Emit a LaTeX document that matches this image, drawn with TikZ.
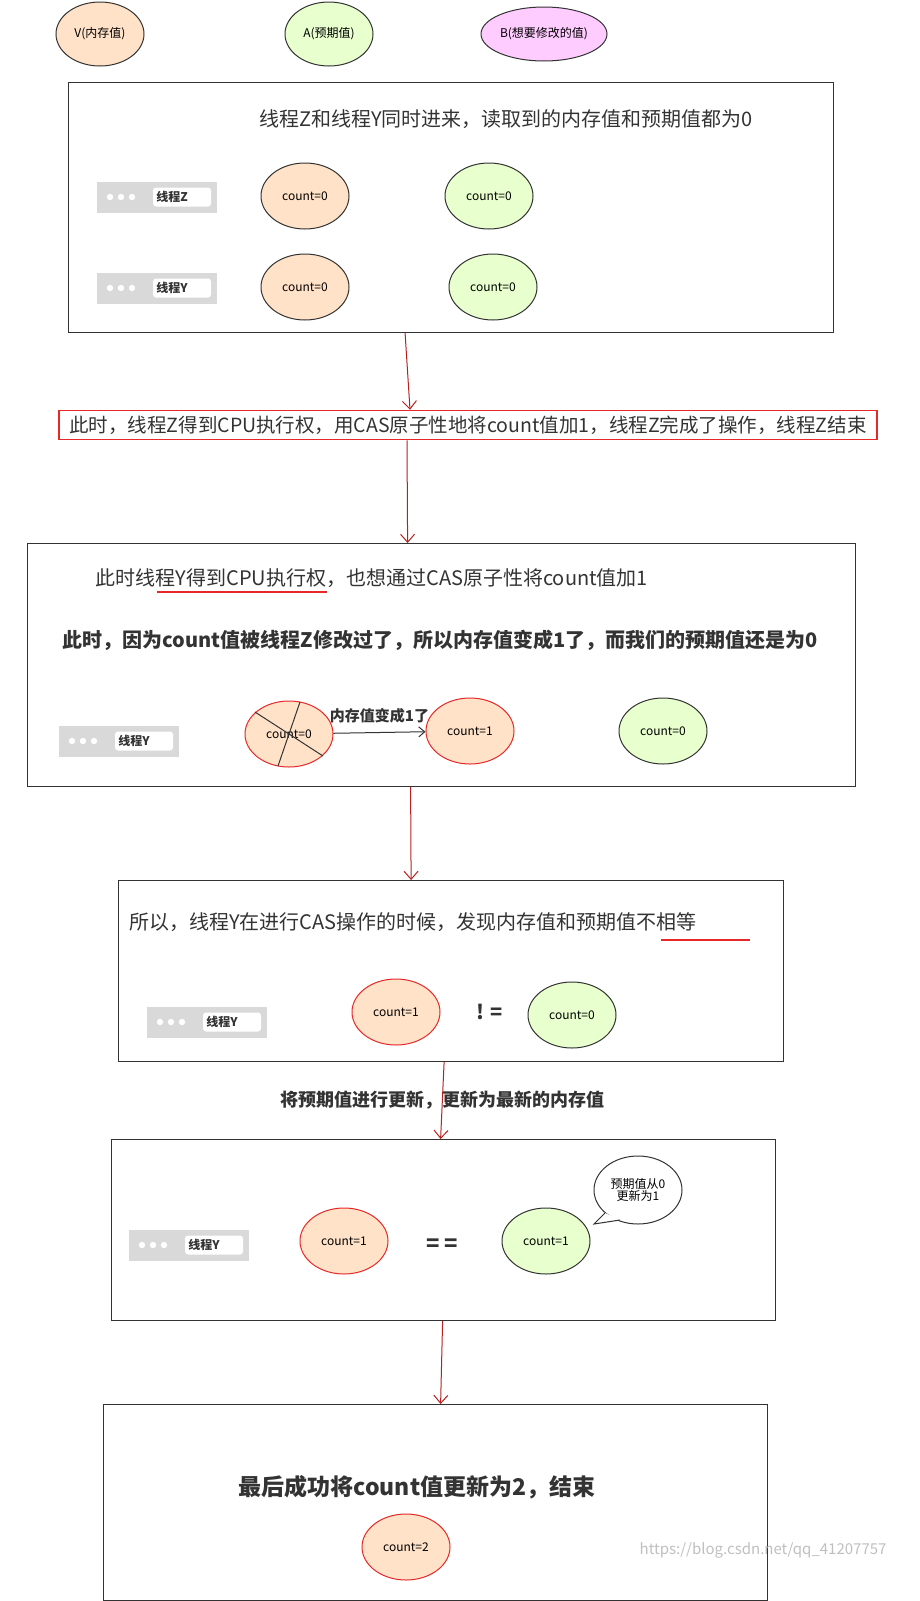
\documentclass[tikz,border=0pt]{standalone}
\usepackage{fontspec}
\setmainfont{Noto Sans CJK SC}
\usetikzlibrary{shapes.geometric,arrows.meta,positioning,calc}
\definecolor{peach}{RGB}{255,226,200}
\definecolor{lgreen}{RGB}{232,255,206}
\definecolor{lpink}{RGB}{255,204,255}
\definecolor{cred}{RGB}{230,40,40}
\newcommand\fs[1]{\fontsize{#1}{#1}\selectfont}

\begin{document}
\begin{tikzpicture}[
    x=1pt, y=-1pt,
    frame/.style={draw=black!80, line width=1.2, anchor=north west, inner sep=0},
    val/.style={ellipse, draw=black!80, line width=1, minimum width=88, minimum height=66, inner sep=0, font=\fs{12}},
    mem/.style={val, fill=peach},
    exp/.style={val, fill=lgreen},
    redmem/.style={mem, draw=cred},
    title/.style={font=\fs{20}, text=black!80, inner sep=0},
    bold title/.style={font=\fs{20}\bfseries, text=black!80, inner sep=0},
    flow/.style={-{Straight Barb[length=8,width=14]}, draw=cred!80!black, line width=1},
    threadbar/.pic={
        \fill[gray!30] (-60,-15) rectangle (60,16);
        \foreach \dx in {-47,-36,-25} \fill[white] (\dx,0) circle (3.2);
        \node[fill=white, rounded corners=3, minimum width=58, minimum height=19, inner sep=0, text=black!80,
              font=\fs{12}\bfseries] at (25,0) {\hspace*{-20pt}#1};
    }
]
\useasboundingbox (0,0) rectangle (919,1601);
\clip (0,0) rectangle (919,1601);
% Legend
\node[val, fill=peach, minimum width=88, minimum height=64] (lv) at (100,34) {V(内存值)};
\node[val, fill=lgreen, minimum width=88, minimum height=64] (la) at (329,34) {A(预期值)};
\node[val, fill=lpink, minimum width=126, minimum height=54] (lb) at (544,34) {B(想要修改的值)};

% Step 1
\node[frame, minimum width=765, minimum height=250] (f1) at (68,82) {};
\node[title] (t1) at (506,119) {线程Z和线程Y同时进来，读取到的内存值和预期值都为0};
\pic at (157,197) {threadbar=线程Z};
\pic at (157,288) {threadbar=线程Y};
\node[mem] (z1) at (305,196) {count=0};
\node[exp] (z2) at (489,196) {count=0};
\node[mem] (y1) at (305,287) {count=0};
\node[exp] (y2) at (493,287) {count=0};

% Step 2
\node[draw=cred, line width=1.5, minimum width=818, minimum height=29, inner sep=0, font=\fs{19.5}, text=black!80] (n2) at (468,425) {此时，线程Z得到CPU执行权，用CAS原子性地将count值加1，线程Z完成了操作，线程Z结束};
\draw[flow] ([xshift=-46]f1.south) -- ([xshift=-58]n2.north);

% Step 3
\node[frame, minimum width=828, minimum height=243] (f3) at (27,543) {};
\draw[flow] ([xshift=-61]n2.south) -- ([xshift=-34]f3.north);
\node[title] (t3) at (372,578) {此时线程Y得到CPU执行权，也想通过CAS原子性将count值加1};
\draw[cred, line width=1.5] (157,592) -- (327,592);
\node[bold title] (t3b) at (440,640) {此时，因为count值被线程Z修改过了，所以内存值变成1了，而我们的预期值还是为0};
\pic at (119,741) {threadbar=线程Y};
\node[redmem] (old) at (289,734) {count=0};
\draw[black!80, line width=1] (255,712) -- (323,756) (300,702) -- (278,766);
\node[redmem] (new) at (470,731) {count=1};
\draw[-{Straight Barb[length=6,width=10]}, black!80, line width=1] (old) -- node[above=6pt, font=\fs{15}\bfseries, text=black!80] {内存值变成1了} (new);
\node[exp] (e3) at (663,731) {count=0};

% Step 4
\node[frame, minimum width=665, minimum height=181] (f4) at (118,880) {};
\draw[flow] ([xshift=-31]f3.south) -- ([xshift=-40]f4.north);
\node[title, anchor=west] (t4) at (129,922) {所以，线程Y在进行CAS操作的时候，发现内存值和预期值不相等};
\draw[cred, line width=1.5] (661,940) -- (750,940);
\pic at (207,1022) {threadbar=线程Y};
\node[redmem] (m4) at (396,1012) {count=1};
\node[font=\fs{20}\bfseries, text=black!80] (ne) at (490,1012) {! =};
\node[exp] (e4) at (572,1015) {count=0};

% Step 5
\node[frame, minimum width=664, minimum height=181] (f5) at (111,1139) {};
\draw[flow] ([xshift=-7]f4.south) -- node[bold title, font=\fs{18}\bfseries] {将预期值进行更新，更新为最新的内存值} ([xshift=-3]f5.north);
\pic at (189,1245) {threadbar=线程Y};
\node[redmem] (m5) at (344,1241) {count=1};
\node[font=\fs{22}\bfseries, text=black!80] (eq) at (442,1245) {= =};
\node[exp] (e5) at (546,1241) {count=1};
\node[val, fill=white, minimum width=88, minimum height=68, font=\fs{12}, align=center] (note) at (638,1190) {预期值从0\\更新为1};
\draw[black!80, line width=1, fill=white] (605,1213) -- (594,1224) -- (620,1220);

% Step 6
\node[frame, minimum width=664, minimum height=196] (f6) at (103,1404) {};
\draw[flow] ([xshift=-1]f5.south) -- ([xshift=5]f6.north);
\node[bold title, font=\fs{23}\bfseries] (t6) at (417,1487) {最后成功将count值更新为2，结束};
\node[redmem] (m6) at (406,1547) {count=2};
\node[anchor=east, font=\fs{15}, text=black!25] (wm) at (890,1550) {https://blog.csdn.net/qq\_41207757};
\end{tikzpicture}
\end{document}
